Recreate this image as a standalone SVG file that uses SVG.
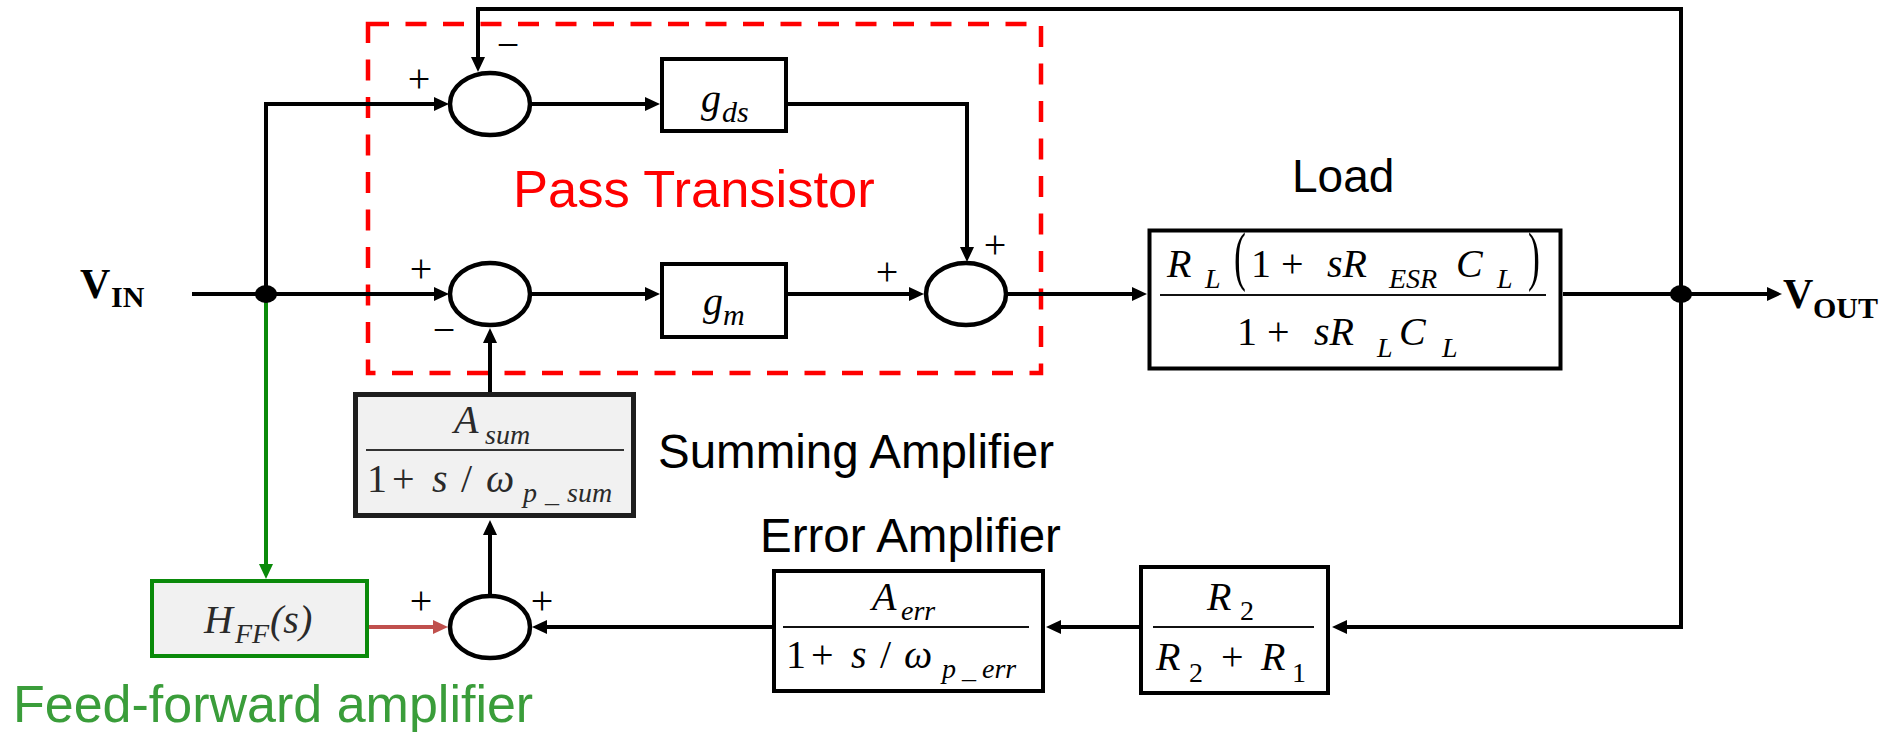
<svg xmlns="http://www.w3.org/2000/svg" width="1894" height="732" viewBox="0 0 1894 732">
<style>
.w{stroke:#000;stroke-width:4;fill:none;stroke-linejoin:miter}
.box{fill:#fff;stroke:#000;stroke-width:4}
.gbox{fill:#f1f1f1;stroke:#1e1e1e;stroke-width:5}
.ffbox{fill:#f1f1f1;stroke:#0a8a0a;stroke-width:4}
.sum{fill:#fff;stroke:#000;stroke-width:4.5}
.frac{stroke:#111;stroke-width:2}
.m{font-family:"Liberation Serif",serif;font-style:italic;font-size:40px;fill:#000}
.sg{font-family:"Liberation Serif",serif;font-size:40px;fill:#000;text-anchor:middle}
.par{font-family:"Liberation Serif",serif;font-size:42px;fill:#000}
.lbl{font-family:"Liberation Sans",Arial,sans-serif;fill:#000}
.io{font-family:"Liberation Serif",serif;font-weight:bold;fill:#000}
</style>
<defs>
<marker id="ah" markerUnits="userSpaceOnUse" markerWidth="15" markerHeight="14" refX="3" refY="7" orient="auto" overflow="visible"><path d="M0,0 L15,7 L0,14 z" fill="#000"/></marker>
<marker id="ahr" markerUnits="userSpaceOnUse" markerWidth="15" markerHeight="14" refX="3" refY="7" orient="auto" overflow="visible"><path d="M0,0 L15,7 L0,14 z" fill="#c0504d"/></marker>
<marker id="ahg" markerUnits="userSpaceOnUse" markerWidth="15" markerHeight="14" refX="3" refY="7" orient="auto" overflow="visible"><path d="M0,0 L15,7 L0,14 z" fill="#0a8a0a"/></marker>
</defs>

<g id="pass-transistor-region">
<rect x="368" y="24" width="673" height="349" fill="none" stroke="#ff0000" stroke-width="4.5" stroke-dasharray="21 16.5"/>
<text class="lbl" x="513" y="207" font-size="52.5" style="fill:#ff0000">Pass Transistor</text>
</g>

<g id="connectors">
<path class="w" d="M192,294 H437" marker-end="url(#ah)"/>
<path class="w" d="M266,294 V104 H437" marker-end="url(#ah)"/>
<path class="w" d="M532,104 H648" marker-end="url(#ah)"/>
<path class="w" d="M532,294 H648" marker-end="url(#ah)"/>
<path class="w" d="M788,104 H967 V250" marker-end="url(#ah)"/>
<path class="w" d="M788,294 H912" marker-end="url(#ah)"/>
<path class="w" d="M1008,294 H1135" marker-end="url(#ah)"/>
<path class="w" d="M1563,294 H1770" marker-end="url(#ah)"/>
<path class="w" d="M1681,294 V9 H478 V60" marker-end="url(#ah)"/>
<path class="w" d="M1681,294 V627 H1344" marker-end="url(#ah)"/>
<path class="w" d="M1139,627 H1058" marker-end="url(#ah)"/>
<path class="w" d="M772,627 H544" marker-end="url(#ah)"/>
<path d="M369,627 H436" stroke="#c0504d" stroke-width="4" fill="none" marker-end="url(#ahr)"/>
<path d="M266,294 V567" stroke="#0a8a0a" stroke-width="4" fill="none" marker-end="url(#ahg)"/>
<path class="w" d="M490,595 V532" marker-end="url(#ah)"/>
<path class="w" d="M490,392 V340" marker-end="url(#ah)"/>
<ellipse cx="266" cy="294" rx="11" ry="9" fill="#000"/>
<ellipse cx="1681" cy="294" rx="11" ry="9" fill="#000"/>
</g>

<g id="vin">
<text class="io" x="80" y="298" font-size="42">V<tspan font-size="30" x="111" y="307">IN</tspan></text>
</g>
<g id="vout">
<text class="io" x="1783" y="308" font-size="42">V<tspan font-size="30" x="1813" y="318">OUT</tspan></text>
</g>

<g id="sum-top">
<ellipse class="sum" cx="490" cy="104" rx="40" ry="31"/>
<text class="sg" x="419" y="92">+</text>
<text class="sg" x="508" y="58">−</text>
</g>

<g id="sum-mid">
<ellipse class="sum" cx="490" cy="294" rx="40" ry="31"/>
<text class="sg" x="421" y="282">+</text>
<text class="sg" x="444" y="343">−</text>
</g>

<g id="gds">
<rect class="box" x="662" y="59" width="124" height="72"/>
<text class="m" x="701" y="112" font-size="42">g<tspan font-size="30" x="722" y="122">ds</tspan></text>
</g>

<g id="gm">
<rect class="box" x="662" y="264" width="124" height="73"/>
<text class="m" x="703" y="315" font-size="42">g<tspan font-size="30" x="723" y="325">m</tspan></text>
</g>

<g id="sum-out">
<ellipse class="sum" cx="966" cy="294" rx="40" ry="31"/>
<text class="sg" x="887" y="285">+</text>
<text class="sg" x="995" y="258">+</text>
</g>

<g id="load">
<text class="lbl" x="1292" y="192" font-size="46">Load</text>
<rect class="box" x="1149.5" y="230.5" width="411" height="138" stroke-width="5"/>
<line class="frac" x1="1160" y1="295" x2="1546" y2="295"/>
<text class="m" y="277" font-size="45"><tspan x="1167">R</tspan><tspan x="1205" y="288" font-size="28">L</tspan><tspan x="1251" y="277" font-style="normal">1</tspan><tspan x="1281" y="277" font-style="normal">+</tspan><tspan x="1327" y="277">sR</tspan><tspan x="1389" y="288" font-size="28">ESR</tspan><tspan x="1456" y="277">C</tspan><tspan x="1497" y="288" font-size="28">L</tspan></text>
<text class="par" transform="translate(1234,278) scale(0.85,1.55)">(</text>
<text class="par" transform="translate(1528,278) scale(0.85,1.55)">)</text>
<text class="m" y="345" font-size="45"><tspan x="1237" font-style="normal">1</tspan><tspan x="1267" font-style="normal">+</tspan><tspan x="1314">sR</tspan><tspan x="1377" y="357" font-size="28">L</tspan><tspan x="1399" y="345">C</tspan><tspan x="1442" y="357" font-size="28">L</tspan></text>
</g>

<g id="summing-amplifier">
<rect class="gbox" x="355.5" y="394.5" width="278" height="121"/>
<line class="frac" x1="366" y1="450" x2="624" y2="450" style="stroke:#333"/>
<text class="m" y="433" style="fill:#2a2a2a"><tspan x="454">A</tspan><tspan x="485" y="444" font-size="28">sum</tspan></text>
<text class="m" y="492" style="fill:#2a2a2a"><tspan x="367" font-style="normal">1</tspan><tspan x="392" font-style="normal">+</tspan><tspan x="432">s</tspan><tspan x="461" font-style="normal">/</tspan><tspan x="486">ω</tspan><tspan x="523" y="502" font-size="28">p</tspan><tspan x="545" y="502" font-size="28">_</tspan><tspan x="567" y="502" font-size="28">sum</tspan></text>
<text class="lbl" x="658" y="468" font-size="47.5">Summing Amplifier</text>
</g>

<g id="feed-forward-amplifier">
<rect class="ffbox" x="152" y="581" width="215" height="75"/>
<text class="m" y="633" style="fill:#2a2a2a"><tspan x="204">H</tspan><tspan x="235" y="643" font-size="28">FF</tspan><tspan x="270" y="633">(s)</tspan></text>
<text class="lbl" x="13" y="722" font-size="52" style="fill:#3a9d3a">Feed-forward amplifier</text>
</g>

<g id="sum-bottom">
<ellipse class="sum" cx="490" cy="627" rx="40" ry="31"/>
<text class="sg" x="421" y="614">+</text>
<text class="sg" x="542" y="614">+</text>
</g>

<g id="error-amplifier">
<text class="lbl" x="760" y="552" font-size="47.5">Error Amplifier</text>
<rect class="box" x="774" y="571" width="269" height="120"/>
<line class="frac" x1="783" y1="627" x2="1029" y2="627"/>
<text class="m" y="610"><tspan x="872">A</tspan><tspan x="901" y="620" font-size="28">err</tspan></text>
<text class="m" y="668"><tspan x="786" font-style="normal">1</tspan><tspan x="811" font-style="normal">+</tspan><tspan x="851">s</tspan><tspan x="880" font-style="normal">/</tspan><tspan x="904">ω</tspan><tspan x="942" y="678" font-size="28">p</tspan><tspan x="962" y="678" font-size="28">_</tspan><tspan x="982" y="678" font-size="28">err</tspan></text>
</g>

<g id="divider">
<rect class="box" x="1141" y="567" width="187" height="126"/>
<line class="frac" x1="1153" y1="627" x2="1314" y2="627"/>
<text class="m" y="610"><tspan x="1207">R</tspan><tspan x="1240" y="620" font-size="28" font-style="normal">2</tspan></text>
<text class="m" y="670"><tspan x="1156">R</tspan><tspan x="1189" y="682" font-size="28" font-style="normal">2</tspan><tspan x="1221" y="670" font-style="normal">+</tspan><tspan x="1261" y="670">R</tspan><tspan x="1292" y="682" font-size="28" font-style="normal">1</tspan></text>
</g>
</svg>
